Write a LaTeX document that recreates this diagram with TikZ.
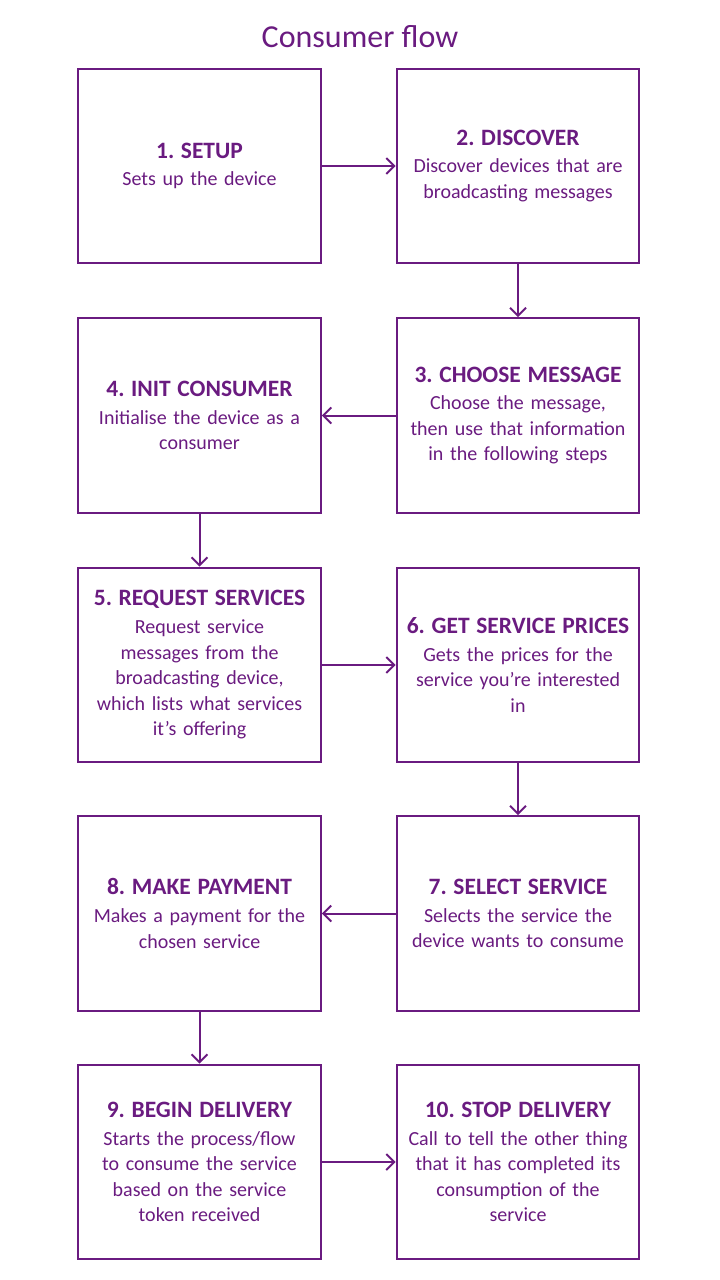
\documentclass[tikz,border=0pt]{standalone}
\usepackage{fontspec}
\setmainfont{Carlito}
\usetikzlibrary{arrows.meta}

\definecolor{flowpurple}{RGB}{106,27,128}

\newcommand{\stephead}[1]{{\fontsize{17.6pt}{19.5pt}\selectfont\textbf{#1}}\\[1.5pt]}

\tikzset{
    stepbox/.style={draw=flowpurple, line width=1.5pt, minimum width=182pt, minimum height=146pt,
                    text=flowpurple, align=center, text width=180pt, inner sep=0pt,
                    font=\fontsize{15pt}{19.2pt}\selectfont\frenchspacing},
    flowarrow/.style={draw=flowpurple, line width=1.5pt, -{Straight Barb[length=6pt, width=12pt, line width=1.5pt]}}
}

\begin{document}
\begin{tikzpicture}[x=0.75pt, y=-0.75pt]
    \useasboundingbox (0,0) rectangle (720,1280);

    \node[text=flowpurple, font=\fontsize{24pt}{28pt}\selectfont] (title) at (360,37) {Consumer flow};

    % row 1
    \node[stepbox] (s1)  at (199.5,166) {\stephead{1. SETUP}Sets up the device};
    \node[stepbox] (s2)  at (518,166)   {\stephead{2. DISCOVER}Discover devices that are\\broadcasting messages};
    % row 2
    \node[stepbox] (s3)  at (518,415.5)     {\stephead{3. CHOOSE MESSAGE}Choose the message,\\then use that information\\in the following steps};
    \node[stepbox] (s4)  at (199.5,415.5)   {\stephead{4. INIT CONSUMER}Initialise the device as a\\consumer};
    % row 3
    \node[stepbox] (s5)  at (199.5,665)   {\stephead{5. REQUEST SERVICES}Request service\\messages from the\\broadcasting device,\\which lists what services\\it’s offering};
    \node[stepbox] (s6)  at (518,665)     {\stephead{6. GET SERVICE PRICES}Gets the prices for the\\service you’re interested\\in};
    % row 4
    \node[stepbox] (s7)  at (518,913.5)     {\stephead{7. SELECT SERVICE}Selects the service the\\device wants to consume};
    \node[stepbox] (s8)  at (199.5,913.5)   {\stephead{8. MAKE PAYMENT}Makes a payment for the\\chosen service};
    % row 5
    \node[stepbox] (s9)  at (199.5,1162) {\stephead{9. BEGIN DELIVERY}Starts the process/flow\\to consume the service\\based on the service\\token received};
    \node[stepbox] (s10) at (518,1162)   {\stephead{10. STOP DELIVERY}Call to tell the other thing\\that it has completed its\\consumption of the\\service};

    % connectors
    \draw[flowarrow] (s1)  -- (s2);
    \draw[flowarrow] (s2)  -- (s3);
    \draw[flowarrow] (s3)  -- (s4);
    \draw[flowarrow] (s4)  -- (s5);
    \draw[flowarrow] (s5)  -- (s6);
    \draw[flowarrow] (s6)  -- (s7);
    \draw[flowarrow] (s7)  -- (s8);
    \draw[flowarrow] (s8)  -- (s9);
    \draw[flowarrow] (s9)  -- (s10);
\end{tikzpicture}
\end{document}
